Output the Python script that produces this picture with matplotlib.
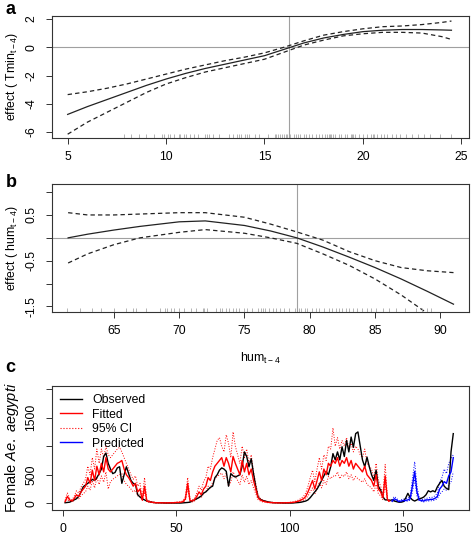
import numpy as np
import matplotlib
matplotlib.use("Agg")
import matplotlib.pyplot as plt

plt.rcParams['font.family'] = ['Liberation Sans', 'DejaVu Sans']
plt.rcParams['mathtext.fontset'] = 'custom'
plt.rcParams['mathtext.rm'] = 'Liberation Sans'
plt.rcParams['mathtext.it'] = 'Liberation Sans:italic'
plt.rcParams['axes.unicode_minus'] = False

# ---- panel a: effect of Tmin (lag 4)
tmin_x = [5, 6, 7, 8, 9, 10, 11, 12, 13, 14, 15, 16, 17, 18, 19, 20, 21, 22, 23, 24, 24.5]
tmin_fit = [-4.75, -4.2, -3.7, -3.2, -2.7, -2.25, -1.85, -1.5, -1.2, -0.9, -0.6, -0.15,
            0.3, 0.65, 0.9, 1.1, 1.2, 1.25, 1.25, 1.22, 1.2]
tmin_up = [-3.35, -3.15, -2.9, -2.6, -2.25, -1.9, -1.55, -1.25, -0.95, -0.7, -0.4, 0.0,
           0.45, 0.85, 1.1, 1.3, 1.45, 1.5, 1.6, 1.75, 1.85]
tmin_lo = [-6.15, -5.3, -4.6, -3.9, -3.2, -2.6, -2.15, -1.75, -1.45, -1.15, -0.85, -0.35,
           0.15, 0.5, 0.8, 0.95, 1.05, 1.05, 1.0, 0.75, 0.55]
tmin_ref = 16.25
tmin_rug = [7.86, 8.2, 8.6, 9.0, 9.4, 9.8, 9.9, 10.1, 10.2, 10.4, 10.65, 10.7, 10.9, 11.0,
            11.2, 11.4, 11.6, 12.0, 12.1, 12.2, 12.4, 12.7, 13.2, 13.4, 13.6, 13.7, 13.8,
            14.0, 14.1, 14.2, 14.5, 14.7, 15.2, 15.55, 15.6, 15.7, 15.8, 15.9, 16.0, 16.1,
            16.15, 16.3, 16.5, 16.6, 16.7, 16.8, 17.0, 17.1, 17.25, 17.4, 17.6, 17.75, 17.9,
            18.1, 18.2, 18.3, 18.35, 18.4, 18.5, 18.6, 18.8, 18.9, 19.1, 19.2, 19.4, 19.45,
            19.5, 19.6, 19.8, 20.0, 20.2, 20.4, 20.5, 20.55, 20.7, 20.9, 21.05, 21.2, 21.5,
            21.7, 21.9, 22.2, 22.5, 22.8, 23.1, 23.4, 23.9, 24.5]

# ---- panel b: effect of humidity (lag 4)
hum_x = [61.5, 63, 65, 67, 70, 72, 75, 77, 79, 81, 83, 85, 87, 89, 91]
hum_fit = [0.0, 0.08, 0.17, 0.25, 0.35, 0.37, 0.27, 0.15, 0.0, -0.2, -0.42, -0.65, -0.9, -1.17, -1.45]
hum_up = [0.55, 0.5, 0.5, 0.52, 0.55, 0.55, 0.45, 0.3, 0.13, -0.05, -0.3, -0.5, -0.65, -0.72, -0.76]
hum_lo = [-0.55, -0.35, -0.15, 0.0, 0.12, 0.18, 0.1, 0.0, -0.12, -0.35, -0.6, -0.9, -1.25, -1.65, -2.1]
hum_ref = 79.0
hum_rug = [61.4, 62.4, 63.3, 64.0, 65.05, 65.9, 66.5, 66.7, 67.5, 68.5, 68.9, 69.1, 69.4,
           69.6, 70.0, 70.4, 70.9, 71.3, 71.8, 71.9, 72.1, 72.8, 73.1, 73.3, 73.6, 73.8,
           74.1, 74.35, 74.6, 75.0, 75.2, 75.6, 76.0, 76.3, 76.4, 76.6, 76.9, 77.2, 77.4,
           77.7, 78.0, 78.4, 78.9, 79.2, 79.3, 79.6, 79.8, 80.2, 80.5, 80.7, 81.1, 81.5,
           81.7, 82.0, 82.25, 82.5, 82.8, 83.0, 83.3, 83.65, 84.0, 84.4, 84.7, 85.1, 85.6,
           86.1, 86.6, 87.3, 88.1, 88.6, 89.0, 89.3]

# ---- panel c: weekly female Ae. aegypti counts
observed = [10, 15, 20, 40, 60, 80, 120, 200, 290, 320,
            350, 380, 420, 400, 450, 520, 600, 820, 880, 700,
            600, 520, 540, 620, 640, 350, 500, 640, 520, 400,
            350, 330, 150, 110, 80, 60, 40, 30, 20, 15,
            10, 10, 8, 8, 5, 5, 5, 5, 5, 5,
            5, 5, 8, 10, 15, 20, 40, 60, 80, 100,
            130, 180, 200, 240, 280, 300, 450, 500, 580, 620,
            600, 560, 300, 520, 480, 460, 480, 500, 650, 900,
            820, 640, 780, 520, 290, 110, 70, 50, 40, 30,
            20, 15, 10, 10, 8, 8, 5, 5, 5, 5,
            5, 8, 10, 15, 20, 30, 40, 60, 100, 150,
            200, 250, 320, 400, 480, 560, 500, 640, 870, 760,
            900, 760, 990, 820, 1100, 900, 1160, 980, 1220, 1250,
            1000, 760, 640, 810, 640, 500, 400, 580, 300, 230,
            115, 60, 60, 50, 60, 40, 30, 20, 20, 30,
            90, 175, 100, 60, 40, 60, 80, 90, 110, 150,
            220, 200, 220, 200, 290, 350, 400, 300, 260, 240,
            900, 1220]
fitted = [30, 120, 60, 40, 80, 150, 120, 200, 250, 300,
          450, 350, 580, 400, 650, 500, 700, 550, 800, 600,
          550, 600, 650, 700, 720, 750, 600, 500, 450, 380,
          300, 350, 200, 250, 60, 300, 40, 30, 20, 15,
          10, 10, 10, 8, 8, 8, 10, 10, 10, 15,
          15, 20, 30, 80, 350, 50, 40, 60, 120, 200,
          150, 250, 300, 450, 400, 550, 650, 700, 750, 800,
          650, 800, 700, 550, 820, 700, 600, 500, 750, 550,
          700, 500, 600, 400, 250, 100, 60, 40, 30, 20,
          15, 12, 10, 10, 8, 8, 8, 10, 10, 12,
          15, 20, 30, 40, 60, 80, 120, 200, 300, 400,
          250, 400, 550, 400, 600, 500, 700, 650, 750, 700,
          800, 650, 750, 700, 800, 650, 750, 600, 700, 650,
          600, 550, 650, 500, 450, 400, 300, 500, 250, 200,
          100, 480, 60, 40]
fit_upper = [50, 180, 90, 60, 120, 220, 180, 280, 350, 420,
             650, 500, 800, 600, 950, 700, 950, 800, 1000, 850,
             800, 850, 900, 950, 980, 900, 800, 700, 600, 500,
             420, 480, 300, 350, 100, 450, 60, 45, 30, 22,
             15, 15, 15, 12, 12, 12, 15, 15, 15, 22,
             22, 30, 45, 120, 450, 80, 60, 90, 180, 300,
             230, 380, 450, 650, 600, 800, 950, 1100, 1150, 1000,
             900, 1200, 1050, 800, 1250, 1000, 850, 700, 1000, 800,
             950, 700, 850, 550, 350, 150, 90, 60, 45, 30,
             22, 18, 15, 15, 12, 12, 12, 15, 15, 18,
             22, 30, 45, 60, 90, 120, 180, 300, 450, 580,
             380, 600, 800, 600, 850, 750, 1000, 950, 1320, 1000,
             1150, 950, 1100, 1000, 1150, 950, 1050, 900, 1000, 950,
             850, 800, 950, 700, 650, 600, 450, 700, 400, 300,
             150, 680, 90, 60]
fit_lower = [15, 70, 35, 25, 50, 100, 80, 130, 170, 200,
             300, 230, 400, 270, 450, 330, 480, 370, 550, 250,
             380, 420, 450, 480, 500, 520, 400, 330, 300, 250,
             200, 230, 130, 160, 40, 200, 25, 20, 13, 10,
             6, 6, 6, 5, 5, 5, 6, 6, 6, 10,
             10, 13, 20, 50, 250, 30, 25, 40, 80, 130,
             100, 170, 200, 300, 270, 370, 430, 470, 500, 530,
             430, 530, 300, 370, 550, 470, 400, 330, 500, 370,
             470, 330, 400, 270, 170, 65, 40, 25, 20, 13,
             10, 8, 6, 6, 5, 5, 5, 6, 6, 8,
             10, 13, 20, 27, 40, 55, 80, 130, 200, 270,
             160, 270, 370, 270, 400, 330, 470, 430, 480, 470,
             550, 430, 500, 470, 550, 430, 500, 400, 470, 430,
             400, 370, 430, 330, 300, 270, 200, 330, 170, 130,
             65, 330, 40, 25]
predicted = [40, 80, 60, 30, 40, 50,
             50, 60, 80, 300, 560, 200, 60, 50, 40, 60,
             60, 70, 70, 90, 120, 250, 300, 380, 350, 480,
             550, 800]
pred_upper = [60, 120, 90, 45, 60, 75,
              75, 90, 120, 420, 730, 300, 90, 75, 60, 90,
              90, 105, 105, 135, 180, 380, 450, 600, 520, 700,
              780, 850]
pred_lower = [25, 50, 40, 20, 25, 33,
              33, 40, 55, 200, 420, 130, 40, 33, 25, 40,
              40, 45, 45, 60, 80, 160, 200, 250, 230, 320,
              370, 550]

weeks = np.arange(1, len(observed) + 1)
fit_weeks = weeks[:len(fitted)]
pred_weeks = np.arange(len(fitted) + 1, len(fitted) + 1 + len(predicted))

fig = plt.figure(figsize=(4.72, 5.36), dpi=100)
ax_a = fig.add_axes([0.110, 0.743, 0.884, 0.227])
ax_b = fig.add_axes([0.110, 0.418, 0.884, 0.239])
ax_c = fig.add_axes([0.110, 0.0485, 0.884, 0.232])

fs = 8.8
grey = '#a0a0a0'

def style(ax):
    for s in ax.spines.values():
        s.set_linewidth(0.8)
        s.set_color('#333333')
    ax.tick_params(axis='both', length=4.3, width=0.7, labelsize=fs, color='#333333')
    ax.tick_params(axis='x', pad=5)
    ax.tick_params(axis='y', pad=6)
    for lab in ax.get_yticklabels():
        lab.set_rotation(90)
        lab.set_va('center')

def rug(ax, vals):
    ax.vlines(vals, 0, 0.03, color='#a8a8a8', lw=0.6,
              transform=ax.get_xaxis_transform())

# panel a
ax_a.axhline(0, color=grey, lw=0.8)
ax_a.axvline(tmin_ref, color=grey, lw=0.8)
ax_a.plot(tmin_x, tmin_fit, color='#222222', lw=0.9)
ax_a.plot(tmin_x, tmin_up, color='#222222', lw=0.9, ls=(0, (3.5, 2.5)))
ax_a.plot(tmin_x, tmin_lo, color='#222222', lw=0.9, ls=(0, (3.5, 2.5)))
rug(ax_a, tmin_rug)
ax_a.set_xlim(4.2, 25.4)
ax_a.set_ylim(-6.4, 2.2)
ax_a.set_xticks([5, 10, 15, 20, 25])
ax_a.set_yticks([-6, -4, -2, 0, 2])
ax_a.set_ylabel(r'effect ( Tmin$_{\mathrm{t-4}}$)', fontsize=fs, labelpad=4)
style(ax_a)

# panel b
ax_b.axhline(0, color=grey, lw=0.8)
ax_b.axvline(hum_ref, color=grey, lw=0.8)
ax_b.plot(hum_x, hum_fit, color='#222222', lw=0.9)
ax_b.plot(hum_x, hum_up, color='#222222', lw=0.9, ls=(0, (3.5, 2.5)))
ax_b.plot(hum_x, hum_lo, color='#222222', lw=0.9, ls=(0, (3.5, 2.5)))
rug(ax_b, hum_rug)
ax_b.set_xlim(60.26, 92.2)
ax_b.set_ylim(-1.62, 1.18)
ax_b.set_xticks([65, 70, 75, 80, 85, 90])
ax_b.set_yticks([-1.5, -1.0, -0.5, 0, 0.5, 1.0])
ax_b.set_yticklabels(['-1.5', '', '-0.5', '', '0.5', ''])
ax_b.set_ylabel(r'effect ( hum$_{\mathrm{t-4}}$)', fontsize=fs, labelpad=4)
ax_b.set_xlabel(r'hum$_{\mathrm{t-4}}$', fontsize=fs, labelpad=10)
style(ax_b)

# panel c
ax_c.plot(fit_weeks, fit_upper, color='red', lw=0.7, ls=':')
ax_c.plot(fit_weeks, fit_lower, color='red', lw=0.7, ls=':')
ax_c.plot(pred_weeks, pred_upper, color='blue', lw=0.7, ls=':')
ax_c.plot(pred_weeks, pred_lower, color='blue', lw=0.7, ls=':')
ax_c.plot(weeks, observed, color='black', lw=1.0)
ax_c.plot(fit_weeks, fitted, color='red', lw=1.0)
ax_c.plot(pred_weeks, predicted, color='blue', lw=1.0)
ax_c.set_xlim(-4.8, 179)
ax_c.set_ylim(-117, 2060)
ax_c.set_xticks([0, 50, 100, 150])
ax_c.set_yticks([0, 500, 1000, 1500, 2000])
ax_c.set_yticklabels(['0', '500', '', '1500', ''])
ax_c.set_ylabel(r'Female $\mathit{Ae.\ aegypti}$', fontsize=10.5, labelpad=3)
style(ax_c)

handles = [plt.Line2D([], [], color='black', lw=1.0),
           plt.Line2D([], [], color='red', lw=1.0),
           plt.Line2D([], [], color='red', lw=0.8, ls=':'),
           plt.Line2D([], [], color='blue', lw=1.0)]
ax_c.legend(handles, ['Observed', 'Fitted', '95% CI', 'Predicted'], loc='upper left',
            frameon=False, fontsize=fs, handlelength=1.8, handletextpad=0.8,
            labelspacing=0.2, borderaxespad=0.3)

fig.text(0.012, 0.998, 'a', fontsize=13, fontweight='bold', va='top')
fig.text(0.012, 0.676, 'b', fontsize=13, fontweight='bold', va='top')
fig.text(0.012, 0.330, 'c', fontsize=13, fontweight='bold', va='top')

fig.savefig('out.png', dpi=100)
